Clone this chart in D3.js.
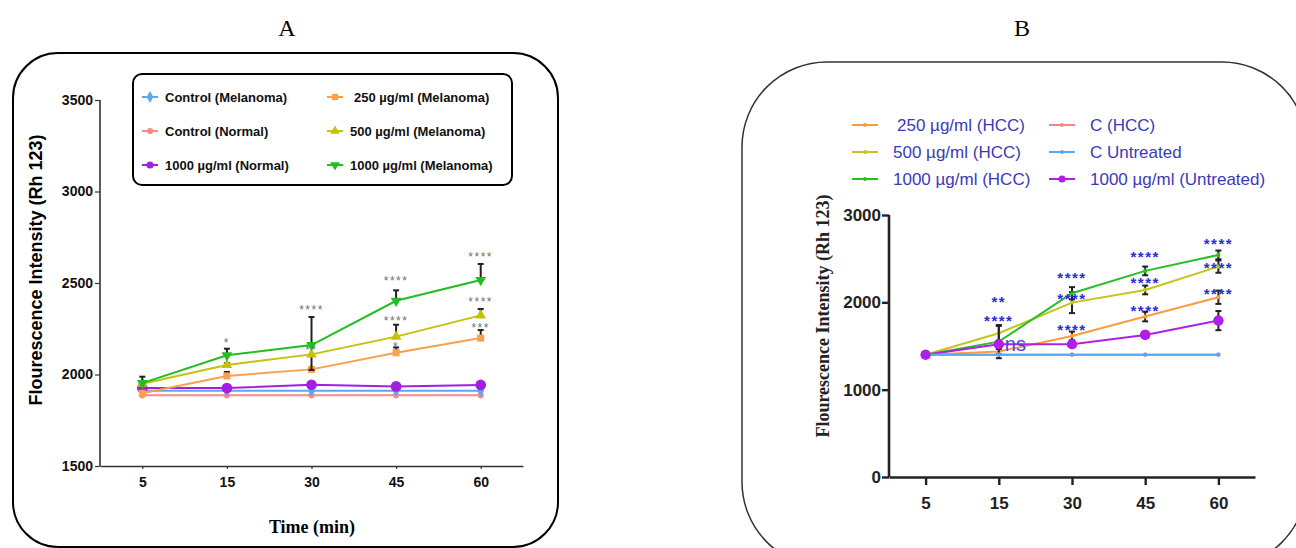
<!DOCTYPE html>
<html>
<head>
<meta charset="utf-8">
<script src="https://cdn.jsdelivr.net/npm/d3@7"></script>
<style>
  body { margin: 0; background: #fff; }
  svg { display: block; }
</style>
</head>
<body>
<div id="chart"></div>
<script>
// ---- data, panel A (melanoma / normal cells) ----
const TIMES = ['5', '15', '30', '45', '60']
const A_TICKS = [1500, 2000, 2500, 3000, 3500]
const A_CTRL_MEL = [1911, 1911, 1911, 1911, 1911]
const A_CTRL_NORM = [1886, 1886, 1886, 1886, 1886]
const A_NORM_1000 = [1926, 1926, 1944, 1935, 1943]
const A_NORM_1000_ERR = [8, 8, 8, 10, 8]
const A_MEL_250 = [1897, 1992, 2028, 2119, 2199]
const A_MEL_250_ERR = [0, 22, 0, 29, 44]
const A_MEL_500 = [1950, 2052, 2110, 2207, 2323]
const A_MEL_500_ERR = [0, 10, 0, 65, 35]
const A_MEL_500_ERR_LOW = [0, 0, 85, 0, 0]
const A_MEL_1000 = [1953, 2105, 2161, 2403, 2516]
const A_MEL_1000_ERR = [35, 36, 153, 57, 88]
// significance marks: [time, value, label]
const A_SIG = [
  ['15', 2190, '*'],
  ['30', 2370, '****'], ['30', 2150, '**'],
  ['45', 2530, '****'], ['45', 2310, '****'], ['45', 2170, '*'],
  ['60', 2660, '****'], ['60', 2415, '****'], ['60', 2270, '***']
]

// ---- data, panel B (HCC / untreated cells) ----
const B_TICKS = [0, 1000, 2000, 3000]
const B_C_HCC = [1400, 1400, 1400, 1400, 1400]
const B_C_UNTREATED = [1400, 1400, 1400, 1400, 1400]
const B_250 = [1400, 1436, 1615, 1837, 2058]
const B_250_ERR = [0, 30, 50, 55, 76]
const B_500 = [1400, 1646, 1997, 2142, 2409]
const B_500_ERR = [0, 84, 120, 50, 70]
const B_1000 = [1400, 1550, 2104, 2360, 2543]
const B_1000_ERR = [0, 190, 70, 50, 50]
const B_UNT_1000 = [1400, 1520, 1520, 1627, 1791]
const B_UNT_1000_ERR = [0, 20, 20, 20, 110]
const B_SIG = [
  ['15', 2070, '**'], ['15', 1850, '****'],
  ['30', 2340, '****'], ['30', 2100, '****'], ['30', 1750, '****'],
  ['45', 2580, '****'], ['45', 2280, '****'], ['45', 1960, '****'],
  ['60', 2730, '****'], ['60', 2460, '****'], ['60', 2160, '****']
]

const W = 1296
const H = 548
const SANS = 'Liberation Sans, Arial, sans-serif'
const SERIF = 'Liberation Serif, Times New Roman, serif'

const svg = d3.select('#chart').append('svg').attr('width', W).attr('height', H)

// marker shapes
function marker(g, type, color, size) {
  var sym = {
    diamond: d3.symbolDiamond, circle: d3.symbolCircle, square: d3.symbolSquare,
    triangle: d3.symbolTriangle, triangleDown: d3.symbolTriangle
  }[type]
  var p = g.append('path')
    .attr('d', d3.symbol().type(sym).size(size)())
    .attr('fill', color)
  if (type === 'triangleDown') p.attr('transform', 'rotate(180)')
  return p
}

function drawSeries(g, x, y, s) {
  var line = d3.line().x((d, i) => x(TIMES[i])).y(d => y(d))
  // error bars first
  if (s.err) {
    s.values.forEach((v, i) => {
      var up = s.err[i]
      var low = s.errLow ? s.errLow[i] : (s.both ? s.err[i] : 0)
      if (!up && !low) return
      var cx = x(TIMES[i])
      g.append('line').attr('x1', cx).attr('x2', cx)
        .attr('y1', y(v - low)).attr('y2', y(v + up))
        .attr('stroke', '#222').attr('stroke-width', 2)
      if (up) g.append('line').attr('x1', cx - 3).attr('x2', cx + 3)
        .attr('y1', y(v + up)).attr('y2', y(v + up))
        .attr('stroke', '#222').attr('stroke-width', 2)
      if (low) g.append('line').attr('x1', cx - 3).attr('x2', cx + 3)
        .attr('y1', y(v - low)).attr('y2', y(v - low))
        .attr('stroke', '#222').attr('stroke-width', 2)
    })
  }
  g.append('path').datum(s.values)
    .attr('d', line)
    .attr('fill', 'none')
    .attr('stroke', s.color)
    .attr('stroke-width', 2)
  s.values.forEach((v, i) => {
    var m = g.append('g').attr('transform', `translate(${x(TIMES[i])},${y(v)})`)
    marker(m, s.marker, s.color, s.size)
  })
}

// ================= Panel A =================
function drawPanelA() {
  var g = svg.append('g')

  g.append('text').attr('x', 287).attr('y', 36)
    .attr('text-anchor', 'middle').attr('font-family', SERIF).attr('font-size', 24)
    .text('A')

  g.append('rect').attr('x', 13).attr('y', 53).attr('width', 545).attr('height', 494)
    .attr('rx', 45).attr('fill', 'none').attr('stroke', '#000').attr('stroke-width', 2)

  var x = d3.scalePoint().domain(TIMES).range([100, 523]).padding(0.5)
  var y = d3.scaleLinear().domain([1500, 3500]).range([466, 100])

  var yAxis = d3.axisLeft(y).tickValues(A_TICKS).tickFormat(d3.format('d')).tickSize(5).tickPadding(2)
  var yg = g.append('g').attr('transform', 'translate(100,0)').call(yAxis)
  var xAxis = d3.axisBottom(x).tickSize(3).tickPadding(8).tickSizeOuter(0)
  var xg = g.append('g').attr('transform', 'translate(0,466)').call(xAxis)
  ;[yg, xg].forEach(a => {
    a.select('.domain').attr('stroke', '#333').attr('stroke-width', 1.6)
    a.selectAll('.tick line').attr('stroke', '#333').attr('stroke-width', 1.2)
    a.selectAll('.tick text').attr('font-family', SANS).attr('font-weight', 'bold')
      .attr('font-size', 14).attr('fill', '#111')
  })
  yg.select('.domain').attr('d', 'M0,100V466')

  g.append('text')
    .attr('transform', 'translate(42,270) rotate(-90)')
    .attr('text-anchor', 'middle').attr('font-family', SANS).attr('font-weight', 'bold')
    .attr('font-size', 18).text('Flourescence Intensity (Rh 123)')

  g.append('text').attr('x', 312).attr('y', 533)
    .attr('text-anchor', 'middle').attr('font-family', SERIF).attr('font-weight', 'bold')
    .attr('font-size', 18).text('Time (min)')

  var series = [
    { name: 'Control (Normal)', values: A_CTRL_NORM, color: '#f58b8b', marker: 'circle', size: 30 },
    { name: 'Control (Melanoma)', values: A_CTRL_MEL, color: '#5aa8f2', marker: 'diamond', size: 40 },
    { name: '1000 µg/ml (Normal)', values: A_NORM_1000, err: A_NORM_1000_ERR, color: '#a31ee0', marker: 'circle', size: 90 },
    { name: '250 µg/ml (Melanoma)', values: A_MEL_250, err: A_MEL_250_ERR, color: '#fba04e', marker: 'square', size: 50 },
    { name: '500 µg/ml (Melanoma)', values: A_MEL_500, err: A_MEL_500_ERR, errLow: A_MEL_500_ERR_LOW, color: '#c6c10a', marker: 'triangle', size: 50 },
    { name: '1000 µg/ml (Melanoma)', values: A_MEL_1000, err: A_MEL_1000_ERR, color: '#20be20', marker: 'triangleDown', size: 50 }
  ]
  var plot = g.append('g')
  series.forEach(s => drawSeries(plot, x, y, s))

  A_SIG.forEach(([t, v, label]) => {
    plot.append('text').attr('x', x(t)).attr('y', y(v))
      .attr('text-anchor', 'middle').attr('dy', '0.6em')
      .attr('font-family', SANS).attr('font-size', 12).attr('letter-spacing', 1.5)
      .attr('fill', '#707070').text(label)
  })

  // legend
  var lg = g.append('g')
  lg.append('rect').attr('x', 133).attr('y', 74).attr('width', 379).attr('height', 111)
    .attr('rx', 9).attr('fill', '#fff').attr('stroke', '#000').attr('stroke-width', 2)
  var order = [
    [series[1], 0, 0], [series[0], 0, 1], [series[2], 0, 2],
    [series[3], 1, 0], [series[4], 1, 1], [series[5], 1, 2]
  ]
  order.forEach(([s, col, row]) => {
    var lx = col === 0 ? 142 : 327
    var ly = 97 + row * 34
    lg.append('line').attr('x1', lx).attr('x2', lx + 16).attr('y1', ly).attr('y2', ly)
      .attr('stroke', s.color).attr('stroke-width', 2)
    var m = lg.append('g').attr('transform', `translate(${lx + 8},${ly})`)
    marker(m, s.marker, s.color, Math.min(s.size, 40))
    lg.append('text').attr('x', col === 0 ? 165 : (row === 0 ? 354 : 350)).attr('y', ly)
      .attr('dy', '0.35em').attr('font-family', SANS).attr('font-weight', 'bold')
      .attr('font-size', 13).attr('fill', '#111').text(s.name)
  })
}

// ================= Panel B =================
function drawPanelB() {
  var g = svg.append('g')

  g.append('text').attr('x', 1022).attr('y', 36)
    .attr('text-anchor', 'middle').attr('font-family', SERIF).attr('font-size', 24)
    .text('B')

  g.append('rect').attr('x', 742).attr('y', 62).attr('width', 565).attr('height', 505)
    .attr('rx', 85).attr('fill', 'none').attr('stroke', '#333').attr('stroke-width', 1.5)

  var x = d3.scalePoint().domain(TIMES).range([889, 1255]).padding(0.5)
  var y = d3.scaleLinear().domain([0, 3000]).range([477, 215])

  var yAxis = d3.axisLeft(y).tickValues(B_TICKS).tickFormat(d3.format('d')).tickSize(7).tickPadding(1)
  var yg = g.append('g').attr('transform', 'translate(889,0)').call(yAxis)
  var xAxis = d3.axisBottom(x).tickSize(8).tickPadding(12).tickSizeOuter(0)
  var xg = g.append('g').attr('transform', 'translate(0,477)').call(xAxis)
  ;[yg, xg].forEach(a => {
    a.select('.domain').attr('stroke', '#222').attr('stroke-width', 2.6)
    a.selectAll('.tick line').attr('stroke', '#222').attr('stroke-width', 2.4)
    a.selectAll('.tick text').attr('font-family', SANS).attr('font-weight', 'bold')
      .attr('font-size', 17).attr('fill', '#222')
  })
  yg.select('.domain').attr('d', 'M0,215V477')

  g.append('text')
    .attr('transform', 'translate(829,316) rotate(-90)')
    .attr('text-anchor', 'middle').attr('font-family', SERIF).attr('font-weight', 'bold')
    .attr('font-size', 18).attr('fill', '#222').text('Flourescence Intensity (Rh 123)')

  var series = [
    { name: '250 µg/ml (HCC)', values: B_250, err: B_250_ERR, both: true, color: '#ff9a3e', marker: 'circle', size: 14 },
    { name: '500 µg/ml (HCC)', values: B_500, err: B_500_ERR, both: true, color: '#c4c41c', marker: 'circle', size: 14 },
    { name: '1000 µg/ml (HCC)', values: B_1000, err: B_1000_ERR, both: true, color: '#26bf26', marker: 'circle', size: 14 },
    { name: 'C (HCC)', values: B_C_HCC, color: '#f88585', marker: 'circle', size: 14 },
    { name: 'C Untreated', values: B_C_UNTREATED, color: '#55a8f5', marker: 'circle', size: 14 },
    { name: '1000 µg/ml (Untreated)', values: B_UNT_1000, err: B_UNT_1000_ERR, both: true, color: '#b01fe6', marker: 'circle', size: 80 }
  ]
  var plot = g.append('g')
  ;[series[0], series[1], series[2], series[5], series[3], series[4]].forEach(s => drawSeries(plot, x, y, s))
  // purple markers on top of the blue control line
  series[5].values.forEach((v, i) => {
    var m = plot.append('g').attr('transform', `translate(${x(TIMES[i])},${y(v)})`)
    marker(m, 'circle', series[5].color, 80)
  })

  B_SIG.forEach(([t, v, label]) => {
    plot.append('text').attr('x', x(t)).attr('y', y(v))
      .attr('text-anchor', 'middle').attr('dy', '0.7em')
      .attr('font-family', SANS).attr('font-weight', 'bold').attr('font-size', 15)
      .attr('letter-spacing', 1.5).attr('fill', '#2c2cd8').text(label)
  })
  plot.append('text').attr('x', x('15') + 6).attr('y', y(1520))
    .attr('dy', '0.35em').attr('font-family', SANS).attr('font-size', 20)
    .attr('fill', '#4848e0').text('ns')

  // legend
  var lg = g.append('g')
  series.forEach((s, i) => {
    var col = i < 3 ? 0 : 1
    var row = i % 3
    var lx = col === 0 ? 852 : 1049
    var ly = 125 + row * 27
    lg.append('line').attr('x1', lx).attr('x2', lx + 26).attr('y1', ly).attr('y2', ly)
      .attr('stroke', s.color).attr('stroke-width', 2)
    var m = lg.append('g').attr('transform', `translate(${lx + 13},${ly})`)
    marker(m, 'circle', s.color, i === 5 ? 40 : 12)
    lg.append('text').attr('x', col === 0 ? (row === 0 ? 897 : 893) : 1090).attr('y', ly)
      .attr('dy', '0.35em').attr('font-family', SANS).attr('font-size', 17)
      .attr('fill', '#3a3ab8').text(s.name)
  })
}

drawPanelA()
drawPanelB()
</script>
</body>
</html>
